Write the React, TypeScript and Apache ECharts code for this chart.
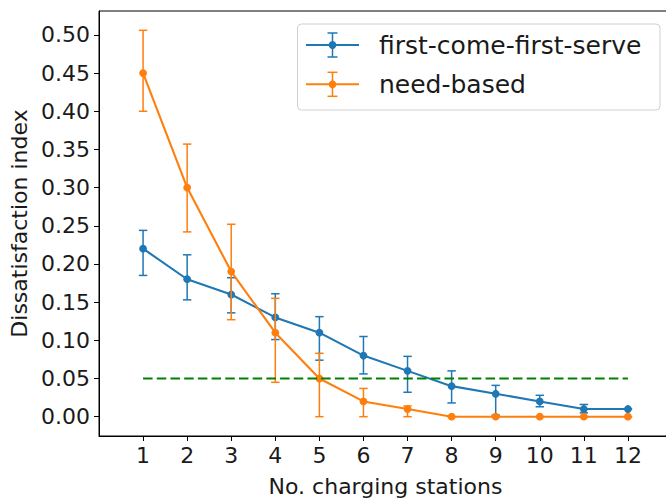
import React, { useEffect, useRef } from "react";
import * as echarts from "echarts";

const stations = [1, 2, 3, 4, 5, 6, 7, 8, 9, 10, 11, 12];
const fcfsMean = [0.22, 0.18, 0.16, 0.13, 0.11, 0.08, 0.06, 0.04, 0.03, 0.02, 0.01, 0.01];
const fcfsLow = [0.185, 0.153, 0.136, 0.101, 0.074, 0.056, 0.032, 0.018, 0.002, 0.013, 0.005, 0.01];
const fcfsHigh = [0.244, 0.212, 0.182, 0.161, 0.131, 0.105, 0.079, 0.06, 0.041, 0.028, 0.016, 0.01];
const needMean = [0.45, 0.3, 0.19, 0.11, 0.05, 0.02, 0.01, 0, 0, 0, 0, 0];
const needLow = [0.4, 0.242, 0.127, 0.045, 0, 0, 0, 0, 0, 0, 0, 0];
const needHigh = [0.506, 0.357, 0.252, 0.155, 0.083, 0.037, 0.014, 0, 0, 0, 0, 0];
const thresholdValue = 0.05;
const yTicks = [0, 0.05, 0.1, 0.15, 0.2, 0.25, 0.3, 0.35, 0.4, 0.45, 0.5];
const seriesNames = ["first-come-first-serve", "need-based"];
const xTitle = "No. charging stations";
const yTitle = "Dissatisfaction index";

const BLUE = "#1f77b4";
const ORANGE = "#ff7f0e";
const GREEN = "#008000";
const FONT = "DejaVu Sans";
const TEXT = "#1a1a1a";

function errorSeries(name: string, color: string, lows: number[], highs: number[], z: number) {
  return {
    type: "custom",
    name: name + "-err",
    z,
    silent: true,
    data: stations.map((s, i) => [s, lows[i], highs[i]]),
    encode: { x: 0, y: [1, 2] },
    renderItem: (params: any, api: any) => {
      const x = api.value(0);
      const p1 = api.coord([x, api.value(2)]);
      const p2 = api.coord([x, api.value(1)]);
      const cw = 4.2;
      const style = { stroke: color, lineWidth: 1.5 };
      return {
        type: "group",
        children: [
          { type: "line", shape: { x1: p1[0], y1: p1[1], x2: p2[0], y2: p2[1] }, style },
          { type: "line", shape: { x1: p1[0] - cw, y1: p1[1], x2: p1[0] + cw, y2: p1[1] }, style },
          { type: "line", shape: { x1: p2[0] - cw, y1: p2[1], x2: p2[0] + cw, y2: p2[1] }, style },
        ],
      };
    },
  };
}

function legendEntry(y: number, color: string, text: string) {
  const cx = 332.5;
  const style = { stroke: color, lineWidth: 1.5 };
  return [
    { type: "line", shape: { x1: 306, y1: y, x2: 359, y2: y }, style: { stroke: color, lineWidth: 2.1 } },
    { type: "line", shape: { x1: cx, y1: y - 12, x2: cx, y2: y + 12 }, style },
    { type: "line", shape: { x1: cx - 5, y1: y - 12, x2: cx + 5, y2: y - 12 }, style },
    { type: "line", shape: { x1: cx - 5, y1: y + 12, x2: cx + 5, y2: y + 12 }, style },
    { type: "circle", shape: { cx, cy: y, r: 3.9 }, style: { fill: color } },
    {
      type: "text",
      x: 379,
      y,
      style: { text, fill: TEXT, font: `25px "${FONT}"`, textVerticalAlign: "middle", textAlign: "left" },
    },
  ];
}

export default function App() {
  const ref = useRef<HTMLDivElement>(null);
  useEffect(() => {
    if (!ref.current) return;
    const chart = echarts.init(ref.current, null, { renderer: "svg" });
    chart.setOption({
      animation: false,
      backgroundColor: "#fff",
      textStyle: { fontFamily: FONT },
      grid: {
        left: 99,
        right: 0,
        top: 11,
        bottom: 63,
        outerBoundsMode: "none",
        containLabel: false,
        show: true,
        borderColor: "#000",
        borderWidth: 1,
        backgroundColor: "transparent",
      },
      xAxis: {
        type: "value",
        min: 0,
        max: 13,
        name: xTitle,
        nameLocation: "middle",
        nameGap: 39,
        nameTextStyle: { fontSize: 22, color: TEXT, fontFamily: FONT },
        axisLine: { show: true, onZero: false, lineStyle: { color: "#000", width: 1 } },
        axisTick: { show: true, length: 5, lineStyle: { color: "#000" }, customValues: stations },
        axisLabel: { fontSize: 22, color: TEXT, margin: 8, fontFamily: FONT, customValues: stations },
        splitLine: { show: false },
      },
      yAxis: {
        type: "value",
        min: -0.0253,
        max: 0.5313,
        name: yTitle,
        nameLocation: "middle",
        nameGap: 67,
        nameTextStyle: { fontSize: 22, color: TEXT, fontFamily: FONT },
        axisLine: { show: true, onZero: false, lineStyle: { color: "#000", width: 1 } },
        axisTick: { show: true, length: 5, lineStyle: { color: "#000" }, customValues: yTicks },
        axisLabel: {
          fontSize: 22,
          color: TEXT,
          margin: 9,
          fontFamily: FONT,
          customValues: yTicks,
          formatter: (v: number) => v.toFixed(2),
        },
        splitLine: { show: false },
      },
      series: [
        errorSeries(seriesNames[0], BLUE, fcfsLow, fcfsHigh, 2),
        {
          type: "line",
          name: seriesNames[0],
          z: 3,
          data: stations.map((s, i) => [s, fcfsMean[i]]),
          symbol: "circle",
          symbolSize: 7.8,
          itemStyle: { color: BLUE },
          lineStyle: { color: BLUE, width: 2.1 },
        },
        errorSeries(seriesNames[1], ORANGE, needLow, needHigh, 4),
        {
          type: "line",
          name: seriesNames[1],
          z: 5,
          data: stations.map((s, i) => [s, needMean[i]]),
          symbol: "circle",
          symbolSize: 7.8,
          itemStyle: { color: ORANGE },
          lineStyle: { color: ORANGE, width: 2.1 },
        },
        {
          type: "line",
          name: "threshold",
          z: 6,
          data: [
            [stations[0], thresholdValue],
            [stations[stations.length - 1], thresholdValue],
          ],
          symbol: "none",
          lineStyle: { color: GREEN, width: 2, type: [9.5, 4.2] },
        },
      ],
      graphic: [
        {
          type: "rect",
          z: 100,
          shape: { x: 297.5, y: 24, width: 362.5, height: 86, r: 4 },
          style: { fill: "rgba(255,255,255,0.8)", stroke: "#d0d0d0", lineWidth: 1 },
        },
        ...legendEntry(45, BLUE, seriesNames[0]).map((e) => ({ ...e, z: 101 })),
        ...legendEntry(84.3, ORANGE, seriesNames[1]).map((e) => ({ ...e, z: 101 })),
      ],
    });
    return () => chart.dispose();
  }, []);
  return (
    <div style={{ position: "absolute", left: 0, top: 0, width: 666, height: 499, overflow: "hidden" }}>
      <div ref={ref} style={{ width: 672, height: 499 }} />
    </div>
  );
}
